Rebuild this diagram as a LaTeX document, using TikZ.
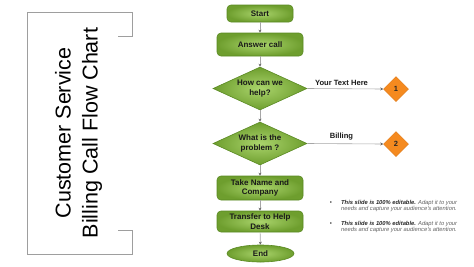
\documentclass[tikz,border=0pt]{standalone}
\usepackage{fontspec}
\setmainfont{Liberation Sans}
\usetikzlibrary{shapes.geometric,arrows.meta}
\definecolor{leafin}{HTML}{AAD46C}
\definecolor{leafout}{HTML}{6E9E2E}
\definecolor{leafedge}{HTML}{5A8A22}
\definecolor{orangefill}{HTML}{F58A1F}
\definecolor{orangeedge}{HTML}{E07812}
\definecolor{linegray}{HTML}{A6A6A6}
\definecolor{framegray}{HTML}{9E9E9E}
\definecolor{notegray}{HTML}{5F5F5F}

\begin{document}
\begin{tikzpicture}[x=1pt,y=-1pt]
  \tikzstyle{greenbox}=[draw=leafedge, line width=0.6pt, rounded corners=4pt, inner color=leafin, outer color=leafout, minimum width=86pt, align=center, font=\fontsize{8}{9.5}\selectfont\bfseries, text=black!90, inner sep=1pt]
  \tikzstyle{greendiamond}=[diamond, draw=leafedge, line width=0.6pt, inner color=leafin, outer color=leafout, aspect=2.19, minimum width=94pt, minimum height=43pt, inner sep=0pt, align=center, font=\fontsize{8}{9.5}\selectfont\bfseries, text=black!90]
  \tikzstyle{orangemark}=[diamond, draw=orangeedge, line width=0.5pt, fill=orangefill, minimum width=25pt, minimum height=25pt, inner sep=0pt, font=\fontsize{7.5}{9}\selectfont\bfseries, text=black!85]
  \tikzstyle{flowline}=[draw=linegray, line width=0.6pt, -{Stealth[length=3pt,width=3pt,color=black!60]}]
  \tikzstyle{sidelabel}=[font=\fontsize{7.6}{9}\selectfont\bfseries, text=black!90]
  \tikzstyle{notetext}=[font=\fontsize{5.8}{6.8}\selectfont\itshape, text=notegray, align=left, anchor=west, inner sep=0pt]
  \useasboundingbox (0,0) rectangle (474,266);
  \draw[framegray, line width=0.8pt] (118,36) -- (132,36) -- (132,12) -- (27,12) -- (27,254) -- (132,254) -- (132,230) -- (118,230);
  \node[rotate=90, align=center, font=\fontsize{21.5}{27}\selectfont] (title) at (78.5,133) {Customer Service\\Billing Call Flow Chart};
  \node[greenbox, minimum width=66pt, minimum height=17pt] (start) at (260,13.5) {Start};
  \node[greenbox, minimum height=23pt] (answer) at (260,44.5) {Answer call};
  \node[greendiamond] (help) at (260,88.5) {How can we\\help?};
  \node[greendiamond] (problem) at (260,143.5) {What is the\\problem ?};
  \node[greenbox, minimum height=24pt] (takename) at (260,188) {Take Name and\\Company};
  \node[greenbox, minimum height=21pt] (transfer) at (260,221.5) {Transfer to Help\\Desk};
  \node[ellipse, draw=leafedge, line width=0.6pt, inner color=leafin, outer color=leafout, minimum width=67pt, minimum height=17pt, inner sep=0pt, font=\fontsize{8}{9.5}\selectfont\bfseries, text=black!90] (end) at (260.5,253.5) {End};
  \node[orangemark] (one) at (396,89) {1};
  \node[orangemark] (two) at (396,144) {2};
  \draw[flowline] (start) -- (answer);
  \draw[flowline] (answer) -- (help);
  \draw[flowline] (help) -- (problem);
  \draw[flowline] (problem) -- (takename);
  \draw[flowline] (takename) -- (transfer);
  \draw[flowline] (transfer) -- (end);
  \draw[flowline] (help.east) -- node[sidelabel, above, pos=0.45] {Your Text Here} (one.west);
  \draw[flowline] (problem.east) -- node[sidelabel, above, pos=0.45] {Billing} (two.west);
  \node[font=\fontsize{6}{7}\selectfont, text=black!80] (dotone) at (331,203) {\textbullet};
  \node[notetext] (noteone) at (341,206) {{\bfseries\color{black!85}This slide is 100\% editable.} Adapt it to your\\needs and capture your audience's attention.};
  \node[font=\fontsize{6}{7}\selectfont, text=black!80] (dottwo) at (331,224) {\textbullet};
  \node[notetext] (notetwo) at (341,227) {{\bfseries\color{black!85}This slide is 100\% editable.} Adapt it to your\\needs and capture your audience's attention.};
\end{tikzpicture}
\end{document}
